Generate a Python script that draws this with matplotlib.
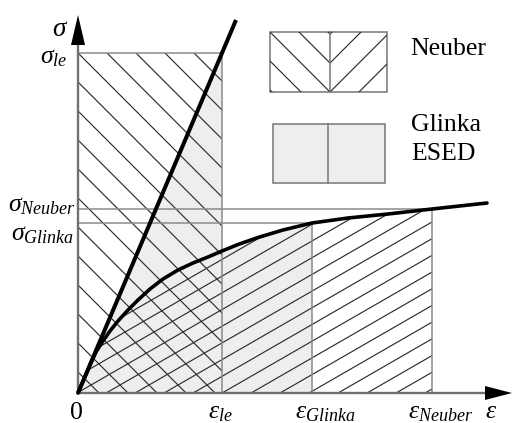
import numpy as np
import matplotlib
matplotlib.use("Agg")
import matplotlib.pyplot as plt
from matplotlib.patches import Polygon, Rectangle

plt.rcParams['mathtext.fontset'] = 'custom'
plt.rcParams['mathtext.it'] = 'Liberation Serif:italic'
plt.rcParams['mathtext.rm'] = 'Liberation Serif'
plt.rcParams['font.family'] = ['Liberation Serif', 'DejaVu Serif']

# ---- data (schematic units) ----
strain = [0, 6, 12, 18, 25, 32, 40, 50, 60, 72, 85, 100, 115, 130, 144, 160,
          180, 205, 234, 270, 310, 354, 409]
stress = [0, 14, 28, 41, 52, 62, 72, 83, 93, 104, 114, 123, 130, 136, 142, 148.5,
          155.5, 163, 170, 175, 179, 184, 190]
elastic_eps = [0, 158]
elastic_sig = [0, 373]
eps_le, sig_le = 144, 340
eps_glinka, sig_glinka = 234, 170
eps_neuber, sig_neuber = 354, 184
sigma_labels = [r'$\sigma_{le}$', r'$\sigma_{Neuber}$', r'$\sigma_{Glinka}$']
eps_labels = [r'$\varepsilon_{le}$', r'$\varepsilon_{Glinka}$', r'$\varepsilon_{Neuber}$']
legend_labels = ['Neuber', 'Glinka', 'ESED']

HATCH = '#2e2e2e'
EDGE = '#8a8a8a'
GRAY = '#eeeeee'

fig = plt.figure(figsize=(5.12, 4.23), dpi=100)
ax = fig.add_axes([0, 0, 1, 1])
ax.axis('off')


def hatch(clip_xy, slope, c0, dc, lw=0.85, z=2):
    poly = Polygon(clip_xy, closed=True, transform=ax.transData,
                   facecolor='none', edgecolor='none')
    ax.add_patch(poly)
    xs = np.array([-200.0, 700.0])
    for k in range(-80, 80):
        ln, = ax.plot(xs, slope * xs + c0 + k * dc, color=HATCH, lw=lw,
                      zorder=z, solid_capstyle='butt')
        ln.set_clip_path(poly)


s = np.array(strain, float)
t = np.array(stress, float)

# gray (Glinka ESED) areas
m = s <= eps_glinka
gl = list(zip(s[m], t[m])) + [(eps_glinka, 0)]
ax.add_patch(Polygon(gl, closed=True, facecolor=GRAY, edgecolor='none', zorder=1))
ax.add_patch(Polygon([(0, 0), (eps_le, sig_le), (eps_le, 0)], closed=True,
                     facecolor=GRAY, edgecolor='none', zorder=1))

# Neuber hatched areas
hatch([(0, 0), (0, sig_le), (eps_le, sig_le), (eps_le, 0)], -1.0, 369, 29)
m = s <= eps_neuber
nb = list(zip(s[m], t[m])) + [(eps_neuber, 0)]
hatch(nb, 0.576, -32.9, 16.7)

# thin guide lines
kw = dict(color=EDGE, lw=1.1, zorder=3)
ax.plot([0, eps_le, eps_le], [sig_le, sig_le, 0], **kw)
ax.plot([0, eps_neuber, eps_neuber], [sig_neuber, sig_neuber, 0], **kw)
ax.plot([0, eps_glinka, eps_glinka], [sig_glinka, sig_glinka, 0], **kw)

# axes with arrows
ax.plot([0, 0], [0, 350], color='#707070', lw=1.7, zorder=4)
ax.plot([0, 409], [0, 0], color='#707070', lw=1.7, zorder=4)
ax.add_patch(Polygon([(-7, 348), (7, 348), (0, 378)], closed=True,
                     facecolor='black', edgecolor='none', zorder=5))
ax.add_patch(Polygon([(407, -7), (407, 7), (434, 0)], closed=True,
                     facecolor='black', edgecolor='none', zorder=5))

# curves
ax.plot(strain, stress, color='black', lw=2.6, zorder=6,
        solid_capstyle='round', solid_joinstyle='round')
ax.plot(elastic_eps, elastic_sig, color='black', lw=2.9, zorder=6, solid_capstyle='butt')

# legend boxes
ax.add_patch(Rectangle((192, 301), 117, 60, facecolor='white', edgecolor='#777777',
                       lw=1.1, zorder=3))
hatch([(192, 301), (192, 361), (252, 361), (252, 301)], -1.0, 553, 29, z=4)
hatch([(252, 301), (252, 361), (309, 361), (309, 301)], 1.0, 49, 29, z=4)
ax.plot([252, 252], [301, 361], color='#777777', lw=1.1, zorder=4)

ax.add_patch(Rectangle((195, 210), 112, 59, facecolor=GRAY, edgecolor='#777777',
                       lw=1.1, zorder=3))
ax.plot([250, 250], [210, 269], color='#777777', lw=1.1, zorder=4)

ax.text(332, 338, legend_labels[0], fontsize=18.5, ha='left', va='baseline')
ax.text(333, 262, legend_labels[1], fontsize=18.5, ha='left', va='baseline')
ax.text(333, 233, legend_labels[2], fontsize=18.5, ha='left', va='baseline')

# axis labels
fs = 18.5
ax.text(-18, 357, r'$\sigma$', fontsize=fs + 1, ha='center', va='baseline')
ax.text(-11, 330, sigma_labels[0], fontsize=fs, ha='right', va='baseline')
ax.text(-2, 182, sigma_labels[1], fontsize=fs, ha='right', va='baseline')
ax.text(-4, 153, sigma_labels[2], fontsize=fs, ha='right', va='baseline')
ax.text(-2, -26, '0', fontsize=fs, ha='center', va='baseline')
ax.text(130, -25, eps_labels[0], fontsize=fs, ha='left', va='baseline')
ax.text(217, -25, eps_labels[1], fontsize=fs, ha='left', va='baseline')
ax.text(330, -25, eps_labels[2], fontsize=fs, ha='left', va='baseline')
ax.text(407, -25, r'$\varepsilon$', fontsize=fs, ha='left', va='baseline')

ax.set_xlim(-78, 434)
ax.set_ylim(-30, 393)
fig.savefig('out.png', dpi=100)
